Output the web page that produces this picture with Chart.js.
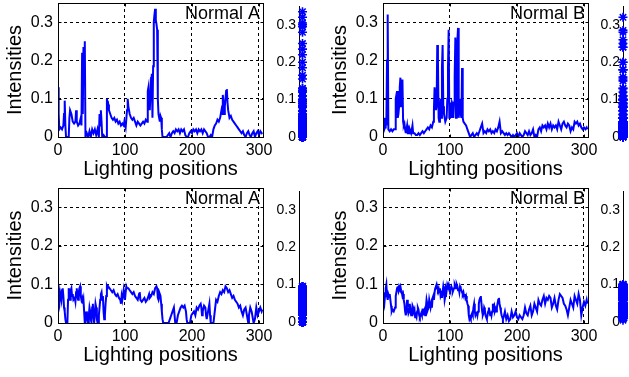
<!DOCTYPE html>
<html><head><meta charset="utf-8">
<script src="https://cdn.jsdelivr.net/npm/chart.js@4"></script>
<style>
html,body{margin:0;padding:0;background:#fff;}
body{width:629px;height:377px;position:relative;overflow:hidden;}
canvas{position:absolute;}
</style></head><body>
<canvas id="mA1" width="290" height="185" style="left:0px;top:0px"></canvas>
<canvas id="mB1" width="290" height="185" style="left:325px;top:0px"></canvas>
<canvas id="mA2" width="290" height="186" style="left:0px;top:185px"></canvas>
<canvas id="mB2" width="290" height="186" style="left:325px;top:185px"></canvas>
<canvas id="sA1" width="55" height="185" style="left:265px;top:0px"></canvas>
<canvas id="sB1" width="39" height="185" style="left:590px;top:0px"></canvas>
<canvas id="sA2" width="55" height="186" style="left:265px;top:185px"></canvas>
<canvas id="sB2" width="39" height="186" style="left:590px;top:185px"></canvas>
<script>
// ---------- data ----------
const panelTitles = ['Normal A', 'Normal B', 'Normal A', 'Normal B'];
const xTickValues = [0, 100, 200, 300];
const yTickValues = [0, 0.1, 0.2, 0.3];
const xMax = 306;
const yMax = 0.35;

const posA1 = [
 0,1,2,4,6,8,9,10,11,12,
 14,16,17,18,20,22,24,26,27,28,
 30,32,34,35,36,37,38,39,40,41,
 43,45,47,49,51,53,55,57,59,61,
 62,63,64,65,66,68,70,72,73,74,
 75,76,78,80,82,84,86,88,90,92,
 94,96,98,99,101,103,104,105,107,109,
 111,113,115,117,119,121,123,125,127,129,
 131,133,134,135,136,137,138,139,140,141,
 142,143,144,145,146,147,148,149,150,151,
 152,153,154,155,156,158,160,162,164,166,
 168,170,172,174,176,178,180,182,184,186,
 188,190,192,194,196,198,200,202,204,206,
 208,210,212,214,216,218,220,222,224,226,
 228,230,232,234,236,238,240,242,244,245,
 246,247,248,249,250,251,252,253,254,256,
 258,260,262,264,266,268,270,272,274,276,
 278,280,282,284,286,288,290,292,294,296,
 298,300,302,304,305];
const intA1 = [
 0.13,0.06,0.02,0.025,0.02,0.03,0.06,0.095,0.03,0,
 0,0,0.05,0.07,0.06,0.04,0.035,0.04,0.07,0.04,
 0.03,0.035,0.05,0.03,0.22,0.06,0.235,0.2,0.25,0,
 0.01,0,0.015,0,0.02,0.01,0.02,0.005,0.02,0,
 0.06,0.03,0.07,0.04,0,0.005,0,0,0.1,0.08,
 0.085,0.07,0.06,0.05,0.045,0.05,0.04,0.045,0.035,0.04,
 0.03,0.035,0.03,0.04,0.025,0.07,0.1,0.08,0.06,0.05,
 0.045,0.05,0.04,0.03,0.04,0.035,0.03,0.035,0.04,0.035,
 0.045,0.04,0.12,0.13,0.08,0.07,0.11,0.155,0.165,0.05,
 0.185,0.3,0.32,0.335,0.305,0.295,0.28,0.1,0.06,0.05,
 0.04,0.055,0.05,0.02,0,0,0,0,0.005,0.01,
 0,0.01,0.015,0.01,0.02,0.015,0.02,0.01,0.02,0.015,
 0.02,0.005,0,0,0.01,0.015,0.01,0.02,0.015,0.02,
 0.01,0.02,0.015,0.02,0.01,0.02,0.015,0.01,0,0,
 0.005,0,0.02,0.03,0.035,0.045,0.04,0.05,0.07,0.06,
 0.11,0.09,0.06,0.08,0.1,0.12,0.125,0.09,0.07,0.05,
 0.055,0.045,0.04,0.035,0.03,0.025,0.02,0.015,0.01,0.015,
 0.005,0,0.01,0.015,0.005,0,0.01,0.015,0,0.01,
 0.015,0.005,0.015,0.01,0.012];

const posB1 = [
 0,1,2,3,4,5,6,7,8,10,
 12,14,16,18,19,20,21,22,23,24,
 25,26,27,28,29,30,31,32,33,34,
 36,37,39,40,42,44,45,47,49,51,
 53,55,57,59,61,63,65,67,69,71,
 73,75,76,77,78,79,80,81,82,83,
 84,85,86,87,88,89,90,91,92,93,
 95,96,97,98,99,100,101,102,103,104,
 105,106,107,108,109,110,111,112,113,114,
 115,116,117,118,119,120,122,124,126,128,
 130,132,134,136,138,140,142,144,146,148,
 150,152,154,156,158,160,162,164,166,168,
 170,172,174,176,178,180,182,184,186,188,
 190,192,194,196,198,200,202,204,206,208,
 210,212,214,216,218,220,222,224,226,228,
 230,232,234,236,238,240,242,244,246,248,
 250,252,254,256,258,260,262,264,266,268,
 270,272,274,276,278,280,282,284,286,288,
 290,292,294,296,298,300,302,304,305];
const intB1 = [
 0.05,0.04,0.02,0.025,0.05,0.03,0.2,0.32,0.02,0.015,
 0.02,0.015,0.02,0.02,0.1,0.11,0.12,0.05,0.06,0.08,
 0.13,0.155,0.08,0.1,0.15,0.04,0.03,0.035,0.02,0.01,
 0.03,0.01,0.01,0.02,0.01,0.03,0.01,0.01,0.005,0.005,
 0.01,0.005,0.01,0.015,0.01,0.015,0.02,0.025,0.02,0.03,
 0.025,0.04,0.07,0.13,0.11,0.07,0.08,0.24,0.2,0.05,
 0.04,0.07,0.1,0.05,0.18,0.24,0.08,0.06,0.05,0.04,
 0.05,0.1,0.18,0.28,0.05,0.07,0.09,0.05,0.09,0.085,
 0.05,0.09,0.16,0.26,0.05,0.1,0.25,0.285,0.05,0.08,
 0.1,0.06,0.05,0.18,0.05,0.04,0.035,0.03,0.02,0.01,
 0,0.005,0.01,0,0.005,0.01,0.005,0.015,0.025,0.035,
 0.01,0.015,0.01,0.02,0.015,0.02,0.01,0.015,0.01,0.02,
 0.015,0.025,0.04,0.01,0.015,0.01,0.005,0.01,0.005,0.01,
 0.005,0,0.005,0,0.005,0.01,0,0.01,0.005,0,
 0.005,0.015,0.01,0.005,0.015,0.005,0.01,0.02,0,0.005,
 0,0.02,0.025,0.015,0.03,0.025,0.03,0.02,0.035,0.025,
 0.035,0.02,0.03,0.025,0.03,0.02,0.04,0.03,0.02,0.035,
 0.04,0.03,0.025,0.035,0.03,0.015,0.025,0.02,0.04,0.035,
 0.04,0.03,0.035,0.025,0.02,0.025,0.02,0.025,0.02];

const posA2 = [
 0,1,2,3,4,5,6,7,8,9,
 10,11,12,14,15,16,17,18,19,20,
 21,22,23,25,26,27,28,29,30,31,
 32,33,34,35,36,37,38,39,40,41,
 42,43,44,45,46,47,48,49,50,51,
 52,53,54,55,56,57,58,59,60,61,
 62,63,64,65,66,67,68,69,70,71,
 72,73,74,75,77,79,81,83,85,87,
 89,91,93,94,95,96,98,99,100,101,
 102,103,105,107,109,111,113,115,117,119,
 121,122,123,125,127,129,131,133,135,136,
 137,139,141,143,145,147,148,149,150,151,
 152,153,154,155,156,157,159,161,163,165,
 167,169,171,173,174,175,177,179,181,183,
 185,187,189,191,192,193,195,197,199,201,
 203,205,207,209,211,213,214,215,216,218,
 220,221,222,224,226,227,228,230,232,234,
 236,238,240,242,244,246,248,250,252,254,
 256,258,260,262,264,266,268,270,272,274,
 276,278,280,282,284,285,287,289,290,292,
 294,296,298,300,302,304,305];
const intA2 = [
 0.09,0.06,0.05,0.08,0.07,0.06,0.085,0.09,0.07,0.04,
 0.03,0.01,0,0,0.06,0.09,0.08,0.06,0.085,0.09,
 0.07,0.075,0.06,0.065,0.055,0.08,0.09,0.07,0.06,0.08,
 0.09,0.095,0.07,0.06,0.065,0.05,0.06,0.03,0,0,
 0.02,0.03,0.01,0,0.02,0.04,0.03,0.01,0,0.04,
 0.05,0.02,0,0,0.05,0.04,0.01,0,0,0.02,
 0.04,0.06,0.075,0.08,0.06,0.07,0.03,0.01,0.02,0.05,
 0.07,0.095,0.09,0.095,0.09,0.085,0.08,0.085,0.075,0.07,
 0.075,0.065,0.06,0.05,0.07,0.06,0.085,0.07,0.06,0.08,
 0.095,0.09,0.09,0.085,0.08,0.075,0.08,0.07,0.065,0.06,
 0.075,0.08,0.06,0.055,0.06,0.065,0.055,0.06,0.07,0.075,
 0.065,0.07,0.08,0.075,0.09,0.095,0.09,0.065,0.06,0.07,
 0.075,0.07,0.05,0.03,0.01,0,0,0,0,0,
 0.01,0.02,0.03,0.04,0.02,0,0,0.02,0.03,0.04,
 0.045,0.04,0.045,0.03,0.01,0,0,0,0.02,0.025,
 0.03,0.02,0.04,0.035,0.045,0.05,0.04,0.02,0.03,0.045,
 0.04,0.02,0.01,0.03,0.05,0.02,0,0,0,0.03,
 0.06,0.055,0.07,0.08,0.075,0.085,0.08,0.095,0.09,0.08,
 0.085,0.075,0.065,0.07,0.06,0.055,0.05,0.04,0.045,0.03,
 0.02,0.035,0.04,0.02,0,0.02,0.04,0.03,0.02,0,
 0.01,0.04,0.02,0.03,0.04,0.03,0.035];

const posB2 = [
 0,1,2,3,4,5,6,7,8,9,
 10,11,12,13,14,16,18,19,20,21,
 22,23,24,25,26,27,28,29,30,31,
 32,33,34,35,36,37,38,39,40,41,
 42,43,44,45,46,47,48,49,50,51,
 52,53,54,55,56,57,58,59,60,61,
 62,63,64,65,66,67,68,69,70,71,
 72,73,74,75,76,77,78,79,80,81,
 82,83,84,85,86,87,88,89,90,91,
 92,93,94,95,96,97,98,99,100,101,
 102,103,104,105,106,107,108,109,110,111,
 112,113,114,115,116,117,118,119,120,121,
 122,123,124,125,126,127,128,129,130,131,
 132,133,134,135,136,137,138,139,140,141,
 142,143,144,145,146,147,148,149,150,151,
 152,153,154,155,156,157,158,159,160,161,
 162,163,164,165,166,167,168,169,170,171,
 172,173,174,175,176,177,178,179,180,182,
 184,186,188,190,192,194,196,198,200,202,
 204,206,208,210,212,214,216,218,220,222,
 224,226,228,230,232,234,236,238,240,242,
 244,246,248,250,252,254,256,258,260,262,
 264,266,268,270,272,274,276,278,280,282,
 284,286,288,290,292,294,296,298,300,302,
 304,305];
const intB2 = [
 0.08,0.06,0.05,0.07,0.09,0.1,0.07,0.06,0.075,0.07,
 0.075,0.06,0.045,0.03,0.035,0.03,0.04,0.07,0.08,0.09,
 0.095,0.085,0.095,0.09,0.095,0.085,0.08,0.07,0.075,0.06,
 0.05,0.03,0.02,0.03,0.06,0.04,0.025,0.03,0.05,0.03,
 0.02,0.025,0.045,0.04,0.03,0.035,0.015,0.02,0.015,0.03,
 0.04,0.035,0.02,0.015,0.02,0.025,0.02,0.035,0.035,0.02,
 0.03,0.02,0.04,0.06,0.05,0.035,0.04,0.06,0.06,0.04,
 0.05,0.04,0.065,0.07,0.06,0.08,0.09,0.095,0.1,0.09,
 0.085,0.09,0.08,0.09,0.07,0.075,0.065,0.08,0.095,0.085,
 0.06,0.07,0.09,0.085,0.1,0.095,0.1,0.09,0.085,0.09,
 0.095,0.09,0.08,0.085,0.09,0.1,0.095,0.09,0.1,0.095,
 0.085,0.09,0.08,0.095,0.09,0.085,0.08,0.075,0.08,0.07,
 0.075,0.065,0.07,0.06,0.05,0.045,0.02,0.01,0.015,0.01,
 0.02,0.025,0.02,0.04,0.05,0.03,0.02,0.025,0.03,0.02,
 0.03,0.05,0.06,0.065,0.07,0.05,0.03,0.02,0.025,0.04,
 0.035,0.02,0.015,0.01,0.02,0.03,0.04,0.03,0.02,0.03,
 0.02,0.03,0.05,0.04,0.045,0.03,0.035,0.03,0.04,0.05,
 0.06,0.065,0.05,0.04,0.03,0.02,0.015,0.01,0.015,0.03,
 0.01,0.02,0.005,0.01,0.03,0.015,0.02,0.03,0.015,0.01,
 0.02,0.015,0.01,0.02,0.04,0.025,0.02,0.035,0.045,0.02,
 0.03,0.05,0.04,0.03,0.06,0.05,0.045,0.06,0.07,0.05,
 0.065,0.06,0.07,0.065,0.04,0.05,0.065,0.045,0.035,0.06,
 0.075,0.07,0.065,0.05,0.045,0.035,0.02,0.04,0.06,0.05,
 0.04,0.07,0.06,0.05,0.075,0.06,0.02,0.04,0.055,0.045,
 0.06,0.05];

// ---------- styling ----------
const FONT = "'Liberation Sans', Arial, Helvetica, sans-serif";
const BLUE = 'rgb(0,0,255)';

const framePlugin = {
  id: 'frame',
  afterDraw(chart, args, opts) {
    if (!opts || !opts.box) return;
    const ctx = chart.ctx;
    const {left, right, top, bottom} = chart.chartArea;
    const xs = chart.scales.x, ys = chart.scales.y;
    ctx.save();
    ctx.setLineDash([]);
    ctx.strokeStyle = '#000';
    ctx.lineWidth = 1;
    ctx.strokeRect(left + 0.5, top + 0.5, right - left, bottom - top);
    ctx.beginPath();
    const tl = 3;
    xTickValues.forEach(v => {
      const px = Math.round(xs.getPixelForValue(v)) + 0.5;
      ctx.moveTo(px, bottom + 0.5); ctx.lineTo(px, bottom + 0.5 - tl);
      ctx.moveTo(px, top + 0.5); ctx.lineTo(px, top + 0.5 + tl);
    });
    yTickValues.forEach(v => {
      const py = Math.round(ys.getPixelForValue(v)) + 0.5;
      ctx.moveTo(left + 0.5, py); ctx.lineTo(left + 0.5 + tl, py);
      ctx.moveTo(right + 0.5, py); ctx.lineTo(right + 0.5 - tl, py);
    });
    ctx.stroke();
    ctx.fillStyle = '#000';
    ctx.font = '18px ' + FONT;
    ctx.textAlign = 'right';
    ctx.textBaseline = 'alphabetic';
    ctx.fillText(opts.label, right - 3, top + 16);
    ctx.restore();
  }
};
Chart.register(framePlugin);

function tickList(values) { return s => { s.ticks = values.map(v => ({value: v})); }; }
function yLabel(v) { return v === 0 ? '0' : v.toFixed(1); }

function mainChart(id, xs, ys, label) {
  const pts = xs.map((x, i) => ({x: x, y: ys[i]}));
  return new Chart(document.getElementById(id), {
    type: 'line',
    data: {datasets: [{data: pts, borderColor: BLUE, borderWidth: 2, pointRadius: 0, tension: 0, fill: false}]},
    options: {
      responsive: false, animation: false,
      layout: {padding: {left: 0, top: 3, right: 27, bottom: 0}},
      plugins: {legend: {display: false}, tooltip: {enabled: false}, frame: {box: true, label: label}},
      scales: {
        x: {
          type: 'linear', min: 0, max: xMax,
          afterBuildTicks: tickList(xTickValues),
          afterFit: s => { s.height = 48; s.paddingLeft = 0; s.paddingRight = 0; },
          ticks: {color: '#000', font: {family: FONT, size: 16}, padding: 4, maxRotation: 0, autoSkip: false, callback: v => String(v)},
          grid: {color: '#000', lineWidth: 1, drawTicks: false},
          border: {display: false, dash: [3, 3]},
          title: {display: true, text: 'Lighting positions', color: '#000', font: {family: FONT, size: 20, lineHeight: 1.2}, padding: {top: 0, bottom: 4}}
        },
        y: {
          type: 'linear', min: 0, max: yMax,
          afterBuildTicks: tickList(yTickValues),
          afterFit: s => { s.width = 58; s.paddingTop = 0; s.paddingBottom = 0; },
          ticks: {color: '#000', font: {family: FONT, size: 16}, padding: 5, autoSkip: false, callback: yLabel},
          grid: {color: '#000', lineWidth: 1, drawTicks: false},
          border: {display: false, dash: [3, 3]},
          title: {display: true, text: 'Intensities', color: '#000', font: {family: FONT, size: 20, lineHeight: 1.2}, padding: {top: 3.5, bottom: 0}}
        }
      }
    }
  });
}

function sideChart(id, ys, axisWidth, padRight, h) {
  const pts = ys.map(v => ({x: 0, y: v}));
  return new Chart(document.getElementById(id), {
    type: 'scatter',
    data: {datasets: [{data: pts, pointStyle: 'star', pointRadius: 4.5, borderColor: BLUE, backgroundColor: BLUE, borderWidth: 1.6, clip: false}]},
    options: {
      responsive: false, animation: false,
      layout: {padding: {left: 0, top: 3, right: padRight, bottom: h - 137}},
      plugins: {legend: {display: false}, tooltip: {enabled: false}},
      scales: {
        x: {type: 'linear', display: false, min: -1, max: 1},
        y: {
          type: 'linear', min: 0, max: yMax,
          afterBuildTicks: tickList(yTickValues),
          afterFit: s => { s.width = axisWidth; s.paddingTop = 0; s.paddingBottom = 0; },
          ticks: {color: '#000', font: {family: FONT, size: 14}, padding: 3, autoSkip: false, callback: yLabel},
          grid: {display: false, drawTicks: false},
          border: {display: true, color: '#000', width: 1}
        }
      }
    }
  });
}

mainChart('mA1', posA1, intA1, panelTitles[0]);
mainChart('mB1', posB1, intB1, panelTitles[1]);
mainChart('mA2', posA2, intA2, panelTitles[2]);
mainChart('mB2', posB2, intB2, panelTitles[3]);
sideChart('sA1', intA1, 34, 14, 185);
sideChart('sB1', intB1, 33, 0, 185);
sideChart('sA2', intA2, 34, 14, 186);
sideChart('sB2', intB2, 33, 0, 186);
</script>
</body></html>
